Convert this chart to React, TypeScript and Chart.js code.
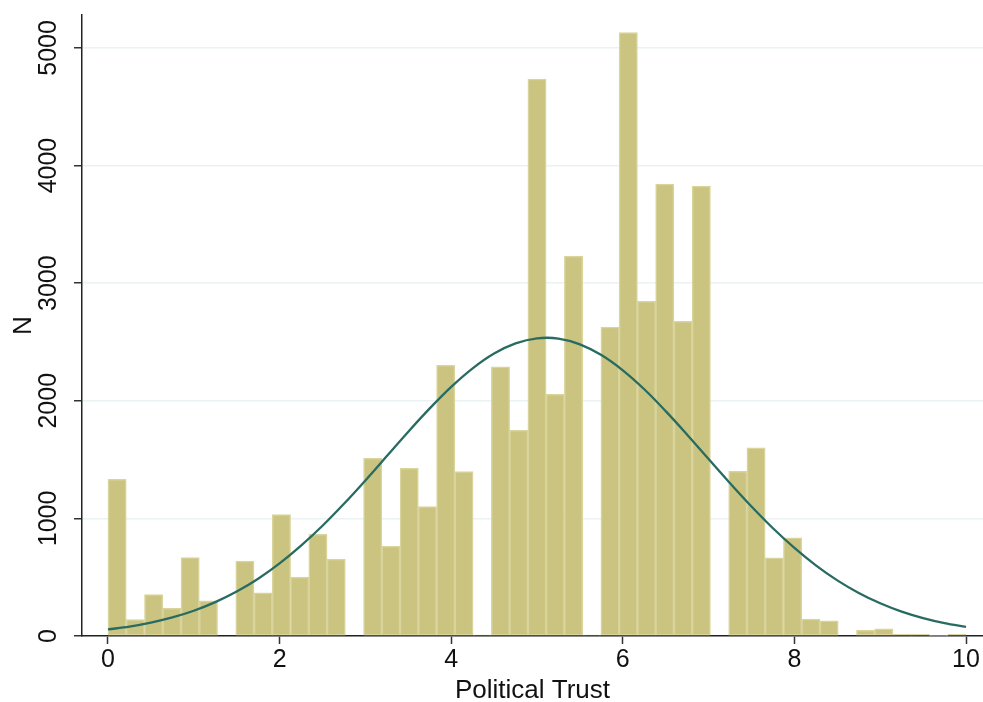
import React, { useEffect, useRef } from "react";
import { Chart, registerables } from "chart.js";

Chart.register(...registerables);

// Histogram bins: 47 bins of equal width covering 0..10
const binStart = 0;
const binWidth = 10 / 47;
const counts = [
  1332, 140, 352, 236, 666, 300, 0, 636, 368, 1033,
  502, 865, 655, 0, 1510, 763, 1425, 1101, 2302, 1399,
  8, 2288, 1749, 4735, 2055, 3231, 8, 2626, 5130, 2846,
  3842, 2675, 3825, 0, 1400, 1600, 665, 834, 144, 128,
  0, 48, 60, 14, 14, 5, 14,
];

// Normal density overlay
const curveX = [
  0, 0.25, 0.5, 0.75, 1, 1.25, 1.5, 1.75, 2, 2.25, 2.5, 2.75, 3, 3.25, 3.5, 3.75,
  4, 4.25, 4.5, 4.75, 5, 5.25, 5.5, 5.75, 6, 6.25, 6.5, 6.75, 7, 7.25, 7.5, 7.75,
  8, 8.25, 8.5, 8.75, 9, 9.25, 9.5, 9.75, 10,
];
const curveY = [
  56, 80, 114, 158, 215, 288, 378, 487, 617, 768, 937, 1124, 1323, 1530, 1737, 1935,
  2118, 2276, 2402, 2488, 2531, 2529, 2480, 2389, 2259, 2098, 1912, 1712, 1505, 1299, 1101, 916,
  749, 601, 473, 366, 278, 207, 152, 109, 77,
];

const xTicks = [0, 2, 4, 6, 8, 10];
const yTicks = [0, 1000, 2000, 3000, 4000, 5000];
const xTitle = "Political Trust";
const yTitle = "N";

const FONT = "'Liberation Sans', Arial, Helvetica, sans-serif";

export default function App() {
  const ref = useRef<HTMLCanvasElement>(null);

  useEffect(() => {
    const canvas = ref.current;
    if (!canvas) return;
    const chart = new Chart(canvas, {
      type: "bar",
      data: {
        datasets: [
          {
            type: "line",
            data: curveX.map((x, i) => ({ x, y: curveY[i] })),
            borderColor: "#286b61",
            borderWidth: 2.3,
            pointRadius: 0,
            tension: 0.35,
            fill: false,
            order: 0,
          } as any,
          {
            type: "bar",
            data: counts.map((c, i) => ({ x: binStart + binWidth * (i + 0.5), y: c })),
            backgroundColor: "#cac480",
            borderColor: "#d9d49c",
            borderWidth: 1.5,
            borderSkipped: false,
            barPercentage: 1,
            categoryPercentage: 1,
            order: 1,
          } as any,
        ],
      },
      options: {
        responsive: false,
        animation: false,
        plugins: { legend: { display: false }, tooltip: { enabled: false } },
        layout: { padding: { top: 15, right: 0, left: 0, bottom: 0 } },
        scales: {
          x: {
            type: "linear",
            offset: false,
            min: -0.303,
            max: 10.198,
            afterBuildTicks: (s: any) => {
              s.ticks = xTicks.map((v) => ({ value: v }));
            },
            afterFit: (s: any) => {
              s.height = 66;
              s.paddingLeft = 0;
              s.paddingRight = 0;
            },
            grid: {
              offset: false,
              drawOnChartArea: false,
              drawTicks: true,
              tickLength: 8,
              tickColor: "#333",
              tickWidth: 1.5,
            },
            border: { color: "#222", width: 1.5 },
            ticks: {
              font: { family: FONT, size: 25 },
              color: "#111",
              padding: 1,
              maxRotation: 0,
              autoSkip: false,
              callback: (v: any) => String(v),
            },
            title: {
              display: true,
              text: xTitle,
              font: { family: FONT, size: 26 },
              color: "#111",
              padding: { top: 0, bottom: -4 },
            },
          },
          y: {
            min: 0,
            max: 5280,
            afterBuildTicks: (s: any) => {
              s.ticks = yTicks.map((v) => ({ value: v }));
            },
            afterFit: (s: any) => {
              s.width = 82;
              s.paddingTop = 0;
              s.paddingBottom = 0;
            },
            grid: {
              color: "#eaf2f3",
              lineWidth: 1.5,
              drawTicks: true,
              tickLength: 8,
              tickColor: "#333",
              tickWidth: 1.5,
            },
            border: { color: "#222", width: 1.5 },
            ticks: {
              font: { family: FONT, size: 25 },
              color: "#111",
              minRotation: 90,
              maxRotation: 90,
              crossAlign: "center",
              padding: -3,
              autoSkip: false,
              callback: (v: any) => String(v),
            },
            title: {
              display: true,
              text: yTitle,
              font: { family: FONT, size: 26 },
              color: "#111",
              padding: { top: 8, bottom: 0 },
            },
          },
        },
      },
    });
    return () => chart.destroy();
  }, []);

  return (
    <div style={{ position: "fixed", left: 0, top: 0, width: 983, height: 702, background: "#fff" }}>
      <canvas ref={ref} width={983} height={702} style={{ display: "block", width: 983, height: 702 }} />
    </div>
  );
}
